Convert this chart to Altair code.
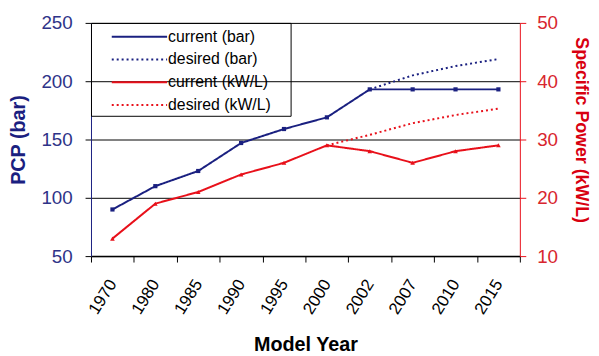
import altair as alt
import pandas as pd

years = ["1970", "1980", "1985", "1990", "1995", "2000", "2002", "2007", "2010", "2015"]
pcp_current = [90, 110, 123, 147, 159, 169, 193, 193, 193, 193]
pcp_desired_years = ["2002", "2007", "2010", "2015"]
pcp_desired = [193, 205, 213, 219]
kw_current = [13, 19, 21, 24, 26, 29, 28, 26, 28, 29]
kw_desired_years = ["2000", "2002", "2007", "2010", "2015"]
kw_desired = [29, 30.8, 32.8, 34.2, 35.3]
series_names = ["current (bar)", "desired (bar)", "current (kW/L)", "desired (kW/L)"]

NAVY = "#1a2080"
NAVY_TXT = "#2e3388"
RED = "#e8101a"
RED_TXT = "#d8262e"

bar_df = pd.DataFrame(
    {"year": years + pcp_desired_years,
     "value": pcp_current + pcp_desired,
     "series": [series_names[0]] * len(years) + [series_names[1]] * len(pcp_desired_years)}
)
kw_df = pd.DataFrame(
    {"year": years + kw_desired_years,
     "value": kw_current + kw_desired,
     "series": [series_names[2]] * len(years) + [series_names[3]] * len(kw_desired_years)}
)

FONT = "Liberation Sans"

x_enc = alt.X(
    "year:O",
    sort=years,
    bandPosition=0.5,
    scale=alt.Scale(type="band", domain=years, paddingInner=0, paddingOuter=0),
    axis=alt.Axis(
        title="Model Year", labelAngle=-58, labelAlign="right", labelBaseline="middle",
        tickBand="extent", labelFontSize=17, labelColor="black", titleFontSize=20,
        titleFontWeight="bold", titleColor="black", domainColor="black", tickColor="black",
        tickSize=6, labelPadding=19, titlePadding=18, grid=False, domainWidth=1.5,
    ),
)

leg = alt.Legend(
    title=".", titleOrient="right", titleOpacity=0, titleFontSize=16, titlePadding=12,
    orient="none", legendX=0, legendY=0, strokeColor="black", padding=3,
    symbolType="M-2.8,0H2.8", symbolSize=400, symbolStrokeWidth=2, symbolOffset=35,
    labelOffset=18, labelFontSize=16, labelColor="black", rowPadding=4, labelLimit=300,
)

color_enc = alt.Color("series:N", scale=alt.Scale(domain=series_names, range=[NAVY, NAVY, RED, RED]), legend=leg)
dash_enc = alt.StrokeDash(
    "series:N",
    scale=alt.Scale(domain=series_names, range=[[1, 0], [2, 3], [1, 0], [2, 3]]),
    legend=leg,
)

y_left = alt.Y(
    "value:Q",
    scale=alt.Scale(domain=[50, 250]),
    axis=alt.Axis(
        orient="left", values=[50, 100, 150, 200, 250], title="PCP (bar)", titleColor=NAVY,
        titleFontSize=20, titleFontWeight="bold", labelColor=NAVY_TXT, labelFontSize=19,
        domainColor=NAVY, tickColor="black", tickSize=6, labelPadding=13, titlePadding=13,
        grid=True, gridColor="black", gridWidth=1,
    ),
)
y_right = alt.Y(
    "value:Q",
    scale=alt.Scale(domain=[10, 50]),
    axis=alt.Axis(
        orient="right", values=[10, 20, 30, 40, 50], title="Specific Power (kW/L)",
        titleColor="#d80010", titleFontSize=18, titleFontWeight="bold", labelColor=RED_TXT,
        labelFontSize=19, domainColor=RED, tickColor=RED, tickSize=6, labelPadding=11,
        titlePadding=14, grid=False, titleY=108,
    ),
)

left_line = alt.Chart(bar_df).mark_line(strokeWidth=2).encode(x=x_enc, y=y_left, color=color_enc, strokeDash=dash_enc)
left_pts = alt.Chart(bar_df).transform_filter(
    alt.datum.series == series_names[0]
).mark_square(size=18, color=NAVY, opacity=1).encode(x=x_enc, y=y_left)

right_line = alt.Chart(kw_df).mark_line(strokeWidth=2).encode(x=x_enc, y=y_right, color=color_enc, strokeDash=dash_enc)
right_pts = alt.Chart(kw_df).transform_filter(
    alt.datum.series == series_names[2]
).mark_point(shape="triangle-up", size=22, filled=True, color=RED, opacity=1).encode(x=x_enc, y=y_right)

left = alt.layer(left_line, left_pts)
right = alt.layer(right_line, right_pts)

chart = (
    alt.layer(left, right)
    .resolve_scale(y="independent")
    .properties(
        width=434, height=236,
        autosize=alt.AutoSizeParams(type="none"),
        padding={"left": 84, "top": 13, "right": 72, "bottom": 99},
    )
    .configure(font=FONT)
    .configure_view(stroke=None)
)

chart.save("out.html", embed_options={"renderer": "svg", "actions": False})
